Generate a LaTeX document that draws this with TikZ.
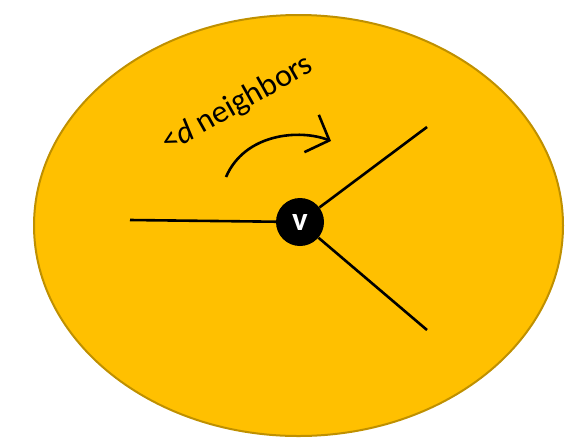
\documentclass[tikz,border=0pt]{standalone}
\usepackage{fontspec}
\setmainfont{Carlito}
\usetikzlibrary{arrows.meta}
\definecolor{gold}{HTML}{FFC000}
\definecolor{goldedge}{HTML}{BF9000}
\begin{document}
\begin{tikzpicture}[x=1pt,y=-1pt,
  edge/.style={line width=2.6pt,black},
  vertex/.style={circle,fill=black,minimum size=48pt,inner sep=0pt,text=white,font=\fontsize{33}{33}\selectfont\bfseries}]
\useasboundingbox (0,0) rectangle (567,440);
\path[fill=gold,draw=goldedge,line width=2pt] (298.5,225.5) ellipse [x radius=264.5, y radius=210.5];
\node[vertex] (v) at (300,222) {v};
\coordinate (l) at (130,220);
\coordinate (ur) at (427,127);
\coordinate (lr) at (427,330);
\draw[edge] (v) -- (l);
\draw[edge] (v) -- (ur);
\draw[edge] (v) -- (lr);
\coordinate (as) at (226,177);
\coordinate (ae) at (331,141);
\draw[line width=2.6pt,-{Straight Barb[length=19pt,width=40pt,line width=2.6pt]}] (as) .. controls (245,133) and (300,129) .. (ae);
\node[anchor=base west,rotate=29.4,inner sep=0pt,font=\fontsize{32}{32}\selectfont] (lab) at (168,153) {<\textit{d} neighbors};
\end{tikzpicture}
\end{document}
